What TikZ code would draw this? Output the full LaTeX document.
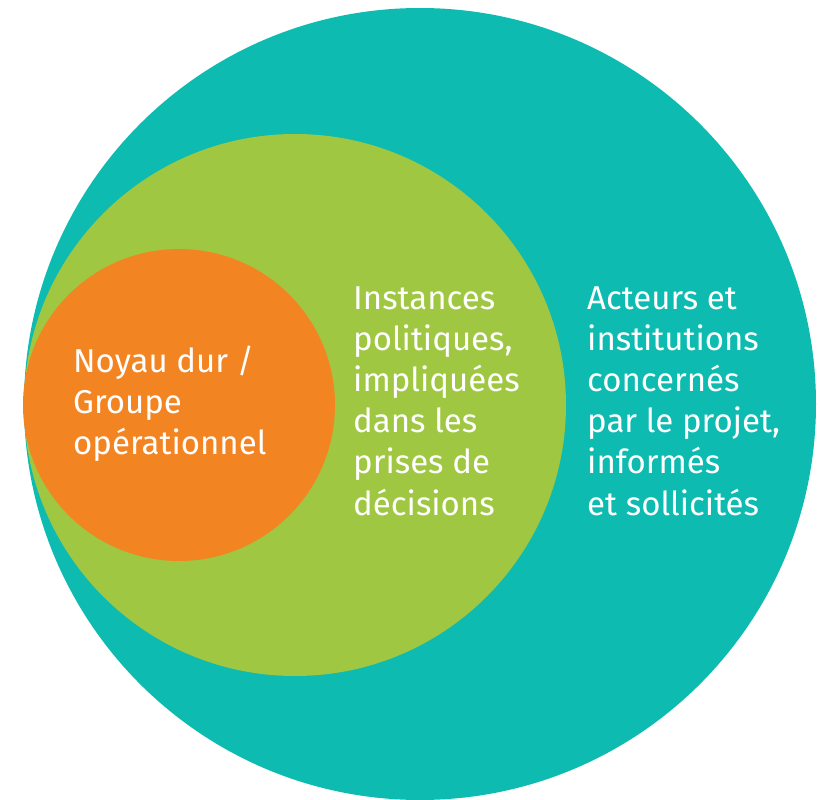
\documentclass[tikz,border=0pt]{standalone}
\usepackage{fontspec}
\setmainfont{Fira Sans}
\definecolor{tealc}{HTML}{0DBBB1}
\definecolor{greenc}{HTML}{9FC741}
\definecolor{orangec}{HTML}{F38422}
\begin{document}
\begin{tikzpicture}[x=1pt,y=-1pt,
  disc/.style={circle,inner sep=0pt,outer sep=0pt,draw=none},
  lbl/.style={text=white,align=left,anchor=base west,inner sep=0pt,
    font=\fontsize{33}{41.2}\selectfont}]
\useasboundingbox (0,0) rectangle (820,800);
\node[disc,fill=tealc,minimum size=792pt] (outer) at (420,404) {};
\node[disc,fill=greenc,minimum size=542pt] (mid) at (295,405) {};
\node[disc,fill=orangec,minimum size=312pt] (core) at (179,405) {};
\node[lbl] (tcore) at (73,454.4) {Noyau dur /\\Groupe\\opérationnel};
\node[lbl] (tmid) at (353,515) {Instances\\politiques,\\impliquées\\dans les\\prises de\\décisions};
\node[lbl] (touter) at (587,515) {Acteurs et\\institutions\\concernés\\par le projet,\\informés\\et sollicités};
\end{tikzpicture}
\end{document}
